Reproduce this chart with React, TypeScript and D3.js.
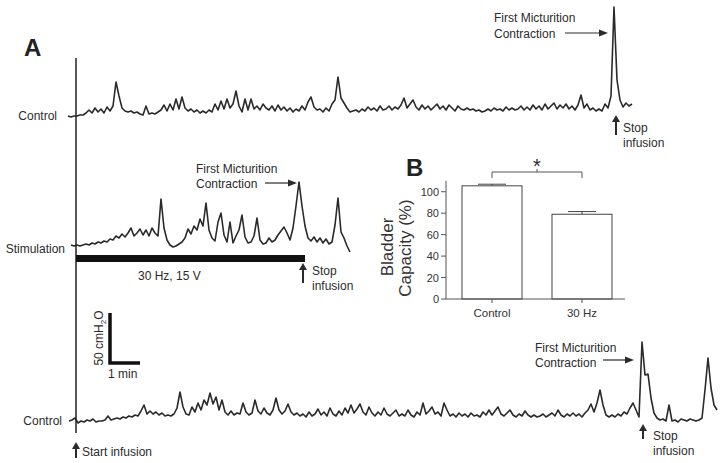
import React from "react";
import * as d3 from "d3";

// cystometry traces: pressure in cmH2O above rest, one sample every 0.1 min
const controlTop = [
  5, 4, 5, 5, 6, 6, 8, 11, 8, 13, 9, 12, 8, 14, 10, 15, 39, 25, 13, 10,
  9, 10, 8, 9, 7, 6, 15, 7, 8, 7, 9, 11, 16, 10, 17, 11, 22, 12, 24, 13,
  10, 12, 9, 11, 8, 10, 8, 11, 9, 17, 11, 20, 12, 22, 13, 17, 30, 15, 9, 22,
  11, 22, 12, 15, 11, 17, 13, 11, 15, 10, 16, 11, 14, 10, 13, 9, 12, 10, 15, 11,
  19, 24, 14, 11, 12, 9, 13, 10, 17, 21, 44, 23, 18, 13, 9, 10, 11, 9, 12, 10,
  14, 11, 13, 10, 15, 11, 12, 15, 11, 14, 12, 16, 23, 13, 17, 21, 14, 11, 16, 12,
  15, 11, 14, 17, 12, 15, 11, 16, 13, 10, 15, 12, 11, 13, 11, 12, 10, 11, 9, 10,
  12, 10, 13, 11, 12, 10, 14, 11, 13, 11, 12, 15, 11, 14, 11, 16, 12, 15, 11, 17,
  12, 15, 18, 12, 16, 13, 17, 12, 15, 11, 16, 26, 13, 17, 11, 13, 10, 12, 10, 17,
  13, 25, 114, 41, 21, 14, 18, 15, 17,
];

const stimulation = [
  5, 4, 5, 4, 5, 6, 5, 7, 6, 8, 7, 9, 8, 11, 10, 14, 12, 16, 13, 17,
  22, 14, 17, 21, 15, 20, 14, 22, 17, 14, 51, 22, 10, 5, 3, 4, 6, 8, 12, 21,
  16, 24, 20, 31, 24, 47, 20, 12, 9, 28, 37, 15, 8, 28, 7, 14, 20, 35, 13, 7,
  8, 14, 32, 10, 6, 7, 12, 8, 10, 15, 19, 23, 17, 10, 22, 44, 68, 44, 24, 12,
  9, 13, 8, 12, 7, 11, 6, 8, 25, 52, 18, 12, 4, -2,
];

const controlBottom = [
  4, 5, 7, 2, 4, 3, 5, 4, 6, 3, 4, 4, 5, 9, 5, 6, 7, 6, 8, 7,
  9, 8, 10, 9, 14, 20, 11, 14, 11, 13, 10, 12, 9, 10, 9, 11, 17, 33, 18, 11,
  10, 18, 13, 22, 15, 25, 20, 32, 21, 28, 15, 25, 13, 10, 14, 10, 12, 11, 22, 13,
  10, 12, 25, 14, 11, 17, 12, 10, 15, 27, 15, 11, 14, 21, 13, 10, 12, 9, 11, 8,
  13, 9, 11, 16, 10, 13, 9, 17, 11, 9, 14, 10, 17, 12, 20, 12, 16, 21, 13, 10,
  18, 12, 9, 13, 10, 17, 11, 9, 12, 15, 9, 11, 9, 15, 10, 8, 13, 10, 22, 11,
  14, 18, 11, 13, 9, 22, 15, 9, 11, 8, 12, 9, 11, 8, 12, 9, 10, 8, 13, 10,
  15, 10, 14, 18, 11, 9, 12, 15, 10, 8, 11, 9, 14, 10, 8, 10, 8, 9, 11, 8,
  10, 12, 9, 15, 10, 8, 11, 9, 12, 9, 11, 8, 12, 15, 21, 13, 22, 35, 20, 10,
  8, 10, 8, 11, 9, 13, 11, 17, 22, 15, 8, 83, 50, 51, 27, 12, 7, 5, 6, 4,
  20, 4, 5, 3, 6, 5, 4, 6, 5, 4, 5, 7, 35, 67, 37, 20, 15,
];

// panel B
const groups = ["Control", "30 Hz"];
const capacity = [105.5, 79];
const capacityErr = [1.5, 2.5];
const capacityTicks = [0, 20, 40, 60, 80, 100];

const SAMPLE_MIN = 0.1;
const FONT = "'Liberation Sans', Arial, Helvetica, sans-serif";
const INK = "#2b2b2b";

// 1 min = 30 px, 50 cmH2O = 50 px
const timeX = d3.scaleLinear().domain([0, 1]).range([0, 30]);
const pressY = d3.scaleLinear().domain([0, 50]).range([0, 50]);

function Trace({ values, x0, y0 }: { values: number[]; x0: number; y0: number }) {
  const line = d3
    .line<number>()
    .x((_, i) => x0 + timeX(i * SAMPLE_MIN))
    .y((d) => y0 - pressY(d));
  return (
    <path d={line(values) || ""} fill="none" stroke="#2a2a2a" strokeWidth={1.6} strokeLinejoin="round" />
  );
}

function ArrowRight({ x1, x2, y }: { x1: number; x2: number; y: number }) {
  return (
    <g>
      <line x1={x1} x2={x2 - 6} y1={y} y2={y} stroke={INK} strokeWidth={1.2} />
      <polygon points={`${x2},${y} ${x2 - 9},${y - 3.5} ${x2 - 9},${y + 3.5}`} fill={INK} />
    </g>
  );
}

function ArrowUp({ x, y1, y2 }: { x: number; y1: number; y2: number }) {
  // y1 bottom, y2 tip
  return (
    <g>
      <line x1={x} x2={x} y1={y1} y2={y2 + 5} stroke={INK} strokeWidth={2} />
      <polygon points={`${x},${y2} ${x - 4},${y2 + 7} ${x + 4},${y2 + 7}`} fill={INK} />
    </g>
  );
}

function Label({ x, y, children, anchor = "start", size = 12 }: any) {
  return (
    <text x={x} y={y} textAnchor={anchor} fontSize={size} fill={INK} fontFamily={FONT}>
      {children}
    </text>
  );
}

function BarPanel() {
  const y = d3.scaleLinear().domain([0, 110]).range([299, 181]);
  const x = d3.scaleBand<string>().domain(groups).range([446, 628]).paddingInner(1 / 3).paddingOuter(0.178);
  const axisColor = "#555";
  const bx = (i: number) => (x(groups[i]) || 0) + x.bandwidth() / 2;
  const bracketY = 172;
  return (
    <g fontFamily={FONT}>
      <text x={406} y={176} fontSize={24} fontWeight="bold" fill="#222">B</text>
      {/* significance */}
      <path
        d={`M${bx(0)},${bracketY + 6}V${bracketY}H${bx(1)}V${bracketY + 6}M${(bx(0) + bx(1)) / 2},${bracketY}V${bracketY - 3}`}
        fill="none"
        stroke={axisColor}
        strokeWidth={1}
      />
      <text x={(bx(0) + bx(1)) / 2} y={173} textAnchor="middle" fontSize={20} fill={INK}>*</text>
      {/* bars */}
      {groups.map((g, i) => (
        <g key={g}>
          <line x1={bx(i)} x2={bx(i)} y1={y(capacity[i])} y2={y(capacity[i] + capacityErr[i])} stroke="#444" />
          <line x1={bx(i) - 14} x2={bx(i) + 14} y1={y(capacity[i] + capacityErr[i])} y2={y(capacity[i] + capacityErr[i])} stroke="#444" />
          <rect
            x={x(g)}
            y={y(capacity[i])}
            width={x.bandwidth()}
            height={y(0) - y(capacity[i])}
            fill="#fff"
            stroke="#444"
            strokeWidth={1}
          />
        </g>
      ))}
      {/* y axis */}
      <line x1={446} x2={446} y1={181} y2={y(0)} stroke={axisColor} />
      {capacityTicks.map((t) => (
        <g key={t}>
          <line x1={441} x2={446} y1={y(t)} y2={y(t)} stroke={axisColor} />
          <text x={439} y={y(t) + 4} textAnchor="end" fontSize={11} fill="#333">{t}</text>
        </g>
      ))}
      {/* x axis */}
      <line x1={446} x2={625} y1={y(0)} y2={y(0)} stroke={axisColor} />
      {groups.map((g, i) => (
        <g key={g}>
          <line x1={bx(i)} x2={bx(i)} y1={y(0)} y2={y(0) + 4} stroke={axisColor} />
          <text x={bx(i)} y={317} textAnchor="middle" fontSize={11.5} fill="#333">{g}</text>
        </g>
      ))}
      <text transform="translate(393,247) rotate(-90)" textAnchor="middle" fontSize={17} fill="#333">Bladder</text>
      <text transform="translate(411,248) rotate(-90)" textAnchor="middle" fontSize={17} fill="#333">Capacity (%)</text>
    </g>
  );
}

export default function App() {
  const barX = 110;
  const barY = 363;
  return (
    <svg width={726} height={463} style={{ position: "absolute", left: 0, top: 0, background: "#fff" }}>
      <rect width={726} height={463} fill="#fff" />
      <text x={24} y={56} fontSize={24} fontWeight="bold" fill="#222" fontFamily={FONT}>A</text>

      <Trace values={controlTop} x0={68} y0={121} />
      <Trace values={stimulation} x0={71} y0={250} />
      <Trace values={controlBottom} x0={69} y0={425} />

      {/* infusion start line */}
      <line x1={76} x2={76} y1={58} y2={433} stroke="#222" strokeWidth={1.5} />

      {/* row labels */}
      <Label x={57} y={120} anchor="end">Control</Label>
      <Label x={65} y={253} anchor="end">Stimulation</Label>
      <Label x={62} y={425} anchor="end">Control</Label>

      {/* top trace notes */}
      <Label x={494} y={22}>First Micturition</Label>
      <Label x={494} y={37.5}>Contraction</Label>
      <ArrowRight x1={565} x2={608} y={33} />
      <ArrowUp x={616} y1={135} y2={115} />
      <Label x={623} y={132}>Stop</Label>
      <Label x={623} y={147}>infusion</Label>

      {/* stimulation notes */}
      <rect x={76} y={255} width={229} height={7} fill="#111" />
      <Label x={138} y={280}>30 Hz, 15 V</Label>
      <Label x={196} y={173}>First Micturition</Label>
      <Label x={196} y={188}>Contraction</Label>
      <ArrowRight x1={265} x2={297} y={183} />
      <ArrowUp x={303} y1={283} y2={263} />
      <Label x={312} y={275}>Stop</Label>
      <Label x={312} y={290}>infusion</Label>

      {/* scale bar */}
      <path
        d={`M${barX},${barY - pressY(50)}V${barY}H${barX + timeX(1)}`}
        fill="none"
        stroke="#111"
        strokeWidth={3.5}
      />
      <text transform={`translate(103,${barY - 25}) rotate(-90)`} textAnchor="middle" fontSize={12} fill={INK} fontFamily={FONT}>
        50 cmH<tspan fontSize={8} dy={3}>2</tspan><tspan dy={-3}>O</tspan>
      </text>
      <Label x={108} y={378}>1 min</Label>

      {/* bottom trace notes */}
      <Label x={535} y={352}>First Micturition</Label>
      <Label x={535} y={367}>Contraction</Label>
      <ArrowRight x1={603} x2={634} y={360} />
      <ArrowUp x={643} y1={439} y2={424} />
      <Label x={653} y={440}>Stop</Label>
      <Label x={653} y={455}>infusion</Label>
      <ArrowUp x={76} y1={458} y2={442} />
      <Label x={82} y={456}>Start infusion</Label>

      <BarPanel />
    </svg>
  );
}
